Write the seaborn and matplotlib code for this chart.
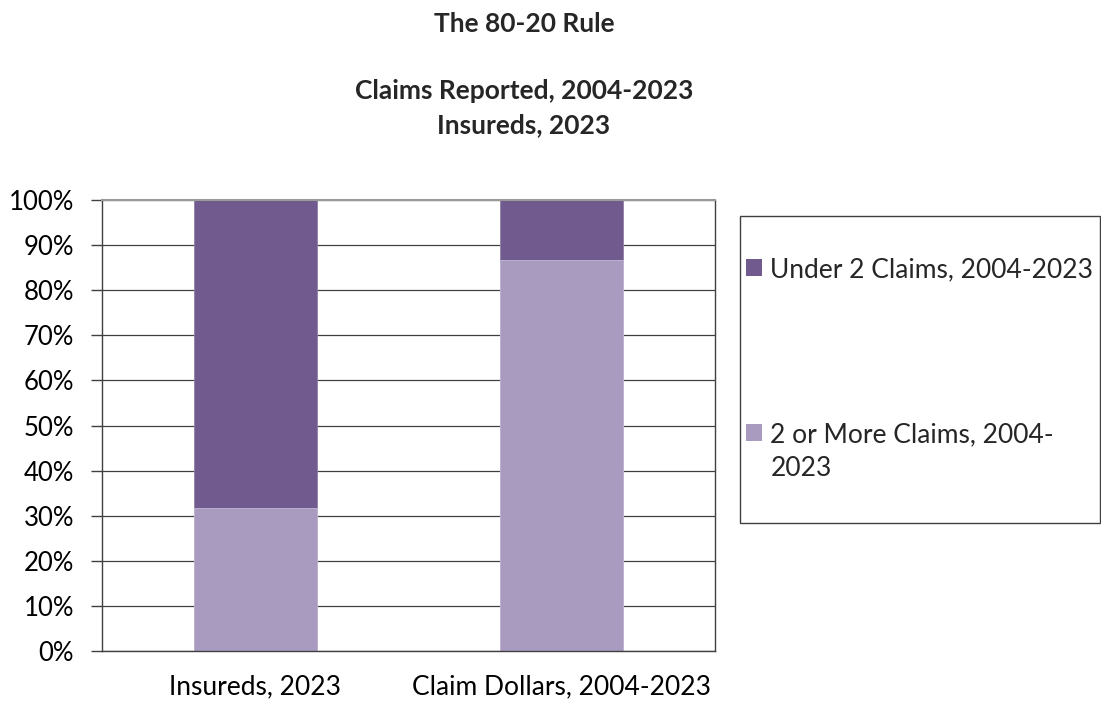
import matplotlib
matplotlib.use("Agg")
import matplotlib.pyplot as plt
import seaborn as sns
import pandas as pd
from matplotlib.patches import Patch, Rectangle
from matplotlib.legend_handler import HandlerPatch

categories = ["Insureds, 2023", "Claim Dollars, 2004-2023"]
two_or_more = [31.7, 86.7]
under_two = [68.3, 13.3]
series_labels = ["Under 2 Claims, 2004-2023", "2 or More Claims, 2004-\n2023"]
yticks = [0, 10, 20, 30, 40, 50, 60, 70, 80, 90, 100]
title_lines = ["The 80-20 Rule", "Claims Reported, 2004-2023", "Insureds, 2023"]

dark = "#715A8E"
light = "#A99BC0"

sns.set_theme(style="white")
plt.rcParams["font.family"] = ["Lato", "DejaVu Sans"]

df = pd.DataFrame({"cat": categories,
                   "low": two_or_more,
                   "total": [a + b for a, b in zip(two_or_more, under_two)]})

W, H = 1101, 707
fig = plt.figure(figsize=(W / 100, H / 100), dpi=100)
ax = fig.add_axes([102 / W, 1 - 651 / H, (715 - 102) / W, (651 - 200) / H])

sns.barplot(data=df, x="cat", y="total", color=dark, width=0.4, saturation=1, ax=ax,
            edgecolor="#8f7fa8", linewidth=0.6)
sns.barplot(data=df, x="cat", y="low", color=light, width=0.4, saturation=1, ax=ax,
            edgecolor="#c3bad3", linewidth=0.6)

ax.set_ylim(0, 100)
ax.set_xlim(-0.5, 1.5)
ax.set_yticks(yticks)
ax.set_yticklabels([f"{v}%" for v in yticks], fontsize=18.5, color="black")
ax.set_xticks([0, 1])
ax.set_xticklabels(categories, fontsize=19, color="black")
ax.tick_params(axis="x", which="major", length=0, pad=17)
ax.set_xticks([-0.5, 0.5, 1.5], minor=True)
ax.tick_params(axis="x", which="minor", length=8, width=1, color="#404040", direction="out")
ax.tick_params(axis="y", which="major", length=8, width=1, color="#404040", direction="out", left=True, pad=12)
ax.set_xlabel("")
ax.set_ylabel("")
ax.yaxis.grid(True, color="#404040", linewidth=0.9)
ax.set_axisbelow(True)
for side in ["left", "bottom", "right"]:
    ax.spines[side].set_visible(True)
    ax.spines[side].set_color("#404040")
    ax.spines[side].set_linewidth(1)
ax.spines["top"].set_visible(True)
ax.spines["top"].set_color("#9a9a9a")
ax.spines["top"].set_linewidth(1.5)

title_y = [24, 91, 125]
for txt, y in zip(title_lines, title_y):
    fig.text(524 / W, 1 - y / H, txt, ha="center", va="center", fontsize=19, fontweight="bold")

# legend frame
fig.patches.append(Rectangle((740 / W, 1 - 523 / H), (1100 - 740) / W, (523 - 216) / H,
                             transform=fig.transFigure, fill=False, edgecolor="#404040", linewidth=1))

LEG_FS = 19
LINESP = 1.45


class ShiftedPatch(HandlerPatch):
    def __init__(self, shift, **kw):
        super().__init__(**kw)
        self.shift = shift

    def create_artists(self, legend, orig_handle, xdescent, ydescent, width, height, fontsize, trans):
        return super().create_artists(legend, orig_handle, xdescent, ydescent - self.shift,
                                      width, height, fontsize, trans)


handles = [Patch(facecolor=dark, edgecolor="none"), Patch(facecolor=light, edgecolor="none")]
leg = fig.legend(handles, series_labels, loc="upper left", bbox_to_anchor=(746 / W, 1 - 257 / H),
                 frameon=False, fontsize=LEG_FS, labelspacing=5.3, handlelength=0.62, handleheight=0.62,
                 handletextpad=0.3, borderpad=0, borderaxespad=0,
                 handler_map={handles[1]: ShiftedPatch(0.5 * LINESP * LEG_FS)})
for t in leg.get_texts():
    t.set_linespacing(LINESP)

fig.savefig("out.png", dpi=100)
